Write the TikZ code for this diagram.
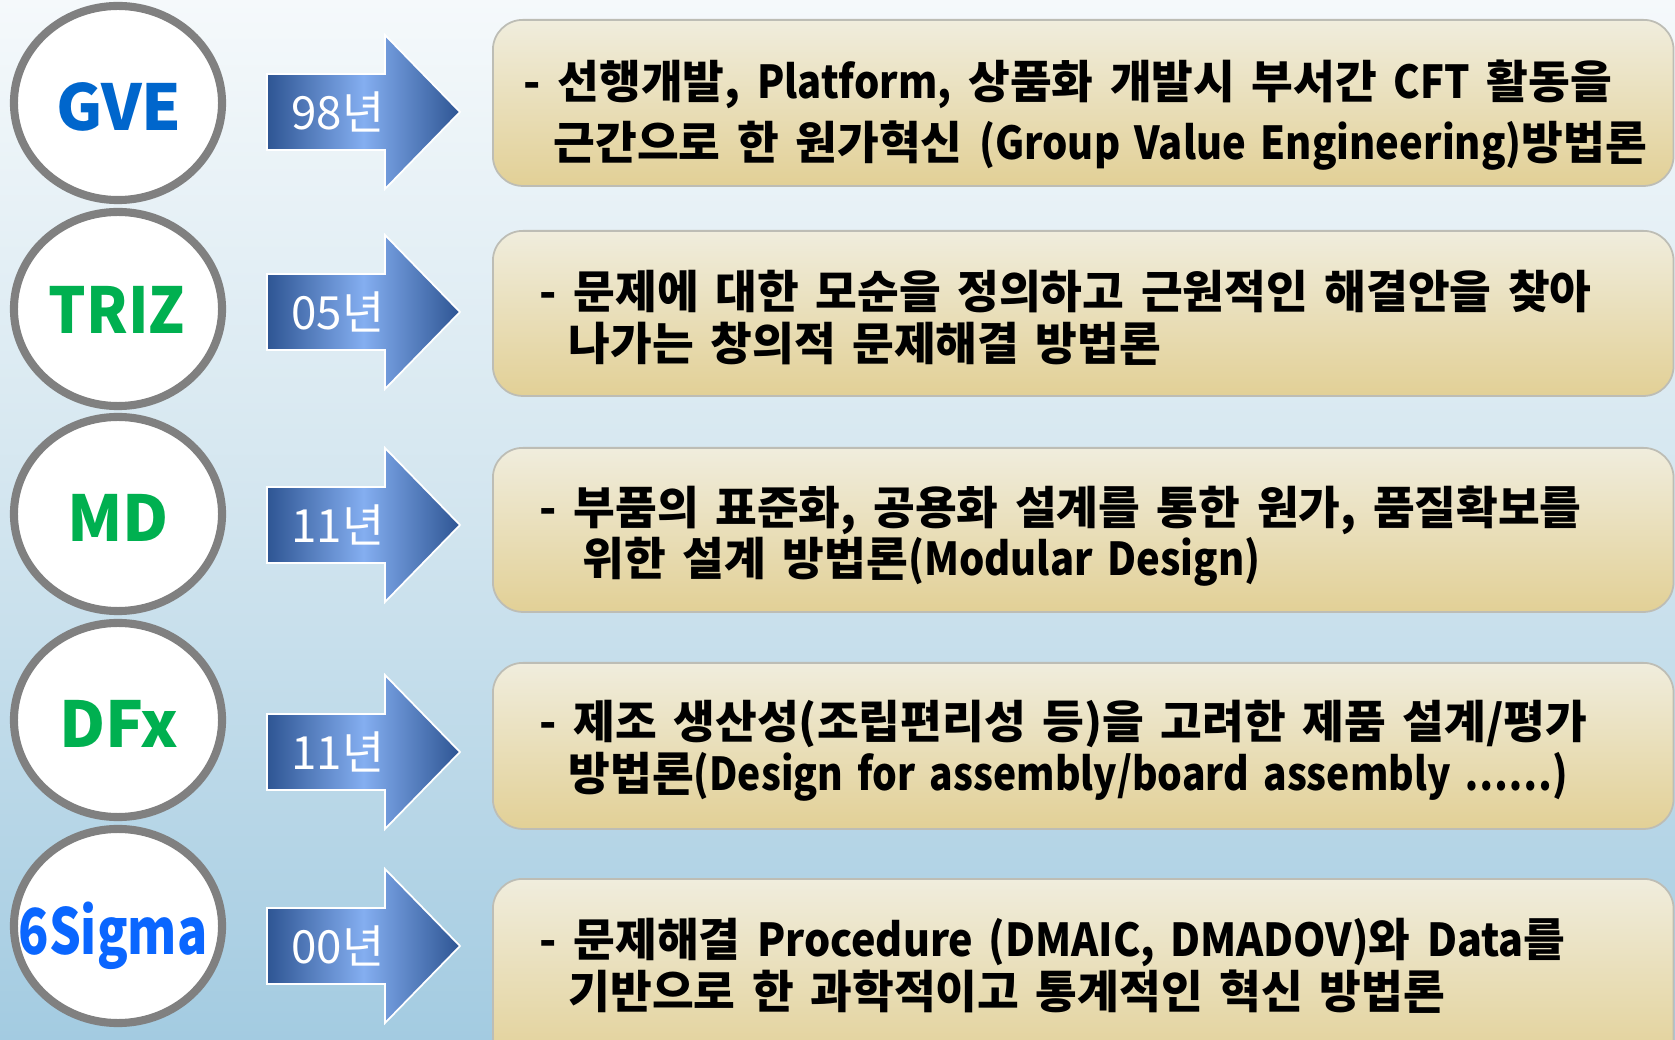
\documentclass[tikz,border=0pt]{standalone}
\usepackage{fontspec}
\setmainfont{Noto Sans CJK KR}[WordSpace=1.6]
\newfontfamily\latf{Noto Sans CJK KR}[FakeStretch=0.88, WordSpace=1.6]
\newfontfamily\latn{Noto Sans CJK KR}[FakeStretch=0.86, WordSpace=1.6]
\newfontfamily\latw{Noto Sans CJK KR}[FakeStretch=0.91, WordSpace=1.6]
\newcommand\lat[1]{{\latf #1}}
\newcommand\latnarrow[1]{{\latn #1}}
\newcommand\latwide[1]{{\latw #1}}
\usetikzlibrary{shapes.geometric}
\definecolor{bgtop}{HTML}{F5F9FB}
\definecolor{bgmid}{HTML}{D2E5EF}
\definecolor{bgbot}{HTML}{A3CBE1}
\definecolor{arrdark}{HTML}{2E5593}
\definecolor{arrlight}{HTML}{84AEF0}
\definecolor{boxtop}{HTML}{F0EDDD}
\definecolor{boxbot}{HTML}{E2D096}
\definecolor{boxline}{HTML}{BDBDB5}
\definecolor{ringgray}{HTML}{808080}
\definecolor{gveblue}{HTML}{0066CC}
\definecolor{sigblue}{HTML}{0A66FF}
\definecolor{mgreen}{HTML}{00B050}
\tikzset{
  ring/.style={ellipse, draw=ringgray, line width=2.3pt, fill=white, minimum width=2.08cm, minimum height=1.94cm, inner sep=0pt},
  ringlbl/.style={font=\bfseries\fontsize{18pt}{20pt}\selectfont, inner sep=0pt, text depth=0pt},
  yarrow/.style={left color=arrdark, right color=arrdark, middle color=arrlight, draw=white, line width=0.5pt},
  yearlbl/.style={text=white, font=\fontsize{13pt}{15pt}\selectfont, inner sep=0pt},
  mbox/.style={rectangle, rounded corners=0.3cm, draw=boxline, line width=0.5pt, top color=boxtop, bottom color=boxbot, minimum width=11.8cm, anchor=north west, inner sep=0pt},
  desc/.style={anchor=west, align=left, inner sep=0pt, font=\bfseries\fontsize{12.9pt}{14.7pt}\selectfont},
}
\newcommand\yeararrow[3]{%
  \path[yarrow] (267,#1-38) -- (385,#1-38) -- (385,#1-77) -- (460,#1) -- (385,#1+77) -- (385,#1+38) -- (267,#1+38) -- cycle;
  \node[yearlbl] (#2) at (338,#1) {#3};
}
\begin{document}
\begin{tikzpicture}[x=0.01cm,y=-0.01cm]
\clip (0,0) rectangle (1675,1040);
\shade[top color=bgtop, bottom color=bgbot, middle color=bgmid] (0,0) rectangle (1675,1040);

% circles
\node[ring] (c1) at (118,103) {};
\node[ring] (c2) at (118,309) {};
\node[ring] (c3) at (118,514) {};
\node[ring] (c4) at (118,720) {};
\node[ring] (c5) at (118,926) {};
\node[ringlbl, text=gveblue] (l1) at (119,107) {GVE};
\node[ringlbl, text=mgreen] (l2) at (117,310) {\scalebox{0.93}[1]{TRIZ}};
\node[ringlbl, text=mgreen] (l3) at (118,518) {MD};
\node[ringlbl, text=mgreen] (l4) at (119,724) {DFx};
\node[ringlbl, text=sigblue] (l5) at (113,928) {\scalebox{0.79}[1]{6Sigma}};

% arrows
\yeararrow{112}{y1}{98년}
\yeararrow{312}{y2}{05년}
\yeararrow{525}{y3}{11년}
\yeararrow{752}{y4}{11년}
\yeararrow{946}{y5}{00년}

% boxes
\node[mbox, minimum height=1.66cm] (b1) at (492,19) {};
\node[mbox, minimum height=1.65cm] (b2) at (492,230) {};
\node[mbox, minimum height=1.64cm] (b3) at (492,447) {};
\node[mbox, minimum height=1.66cm] (b4) at (492,662) {};
\node[mbox, minimum height=1.90cm] (b5) at (492,878) {};

\node[desc, font=\bfseries\fontsize{12.9pt}{17.4pt}\selectfont] (t1) at (523,115) {- 선행개발, \lat{Platform,} 상품화 개발시 부서간 \lat{CFT} 활동을\\\hspace{0.3cm}근간으로 한 원가혁신 \lat{(Group Value Engineering)}방법론};
\node[desc] (t2) at (539,318) {- 문제에 대한 모순을 정의하고 근원적인 해결안을 찾아\\\hspace{0.29cm}나가는 창의적 문제해결 방법론};
\node[desc] (t3) at (539,536) {- 부품의 표준화, 공용화 설계를 통한 원가, 품질확보를\\\hspace{0.43cm}위한 설계 방법론\lat{(Modular Design)}};
\node[desc] (t4) at (539,751) {- 제조 생산성(조립편리성 등)을 고려한 제품 설계/평가\\\hspace{0.29cm}방법론\latnarrow{(Design for assembly/board assembly ……)}};
\node[desc] (t5) at (539,966) {- 문제해결 \latwide{Procedure (DMAIC, DMADOV)}와 \latwide{Data}를\\\hspace{0.29cm}기반으로 한 과학적이고 통계적인 혁신 방법론};
\end{tikzpicture}
\end{document}
